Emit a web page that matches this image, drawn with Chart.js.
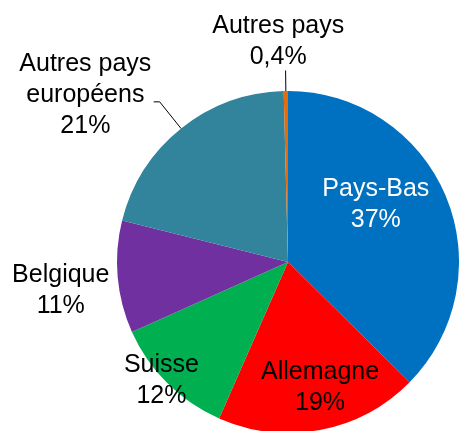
<!DOCTYPE html>
<html lang="fr">
<head>
<meta charset="utf-8">
<title>Répartition par pays</title>
<script src="https://cdn.jsdelivr.net/npm/chart.js@4/dist/chart.umd.min.js"></script>
<style>
  html, body { margin: 0; padding: 0; background: #fff; overflow: hidden; }
  canvas { display: block; }
</style>
</head>
<body>
<canvas id="pie" width="459" height="433"></canvas>
<script>
// --- données ---
const categories = ['Pays-Bas', 'Allemagne', 'Suisse', 'Belgique', 'Autres pays européens', 'Autres pays'];
const values = [37.4, 19.2, 11.7, 10.6, 20.7, 0.4];
const percentLabels = ['37%', '19%', '12%', '11%', '21%', '0,4%'];
const nameLines = [['Pays-Bas'], ['Allemagne'], ['Suisse'], ['Belgique'], ['Autres pays', 'européens'], ['Autres pays']];
const colors = ['#0070C0', '#FF0000', '#00B050', '#7030A0', '#31849B', '#E46C0A'];

// placement des étiquettes : facteur de rayon sur l'angle médian + décalage en px
const labelPlacement = [
  { r: 0.62, dx: -10, dy: -19, color: '#fff' },
  { r: 0.75, dx: 8, dy: -2, color: '#000' },
  { r: 1.0, dx: -6, dy: -5, color: '#000' },
  { r: 1.34, dx: 1, dy: 6, color: '#000' },
  { r: 1.54, dx: -38, dy: 37, color: '#000', leader: { r: 1.2, elbow: -6 } },
  { r: 1.3, dx: -7, dy: 0, color: '#000', leader: { r: 1.12, elbow: 0 } }
];

const FONT_SIZE = 25;
const LINE_H = 31;
const CAP_H = 18;

const labelPlugin = {
  id: 'sliceLabels',
  afterDraw(chart) {
    const ctx = chart.ctx;
    const arcs = chart.getDatasetMeta(0).data;
    ctx.save();
    ctx.font = FONT_SIZE + 'px "Liberation Sans", Arial, sans-serif';
    ctx.textAlign = 'center';
    ctx.textBaseline = 'alphabetic';
    arcs.forEach((arc, i) => {
      const p = labelPlacement[i];
      const mid = (arc.startAngle + arc.endAngle) / 2;
      const R = arc.outerRadius;
      const cx = arc.x + Math.cos(mid) * R * p.r + p.dx;
      const cy = arc.y + Math.sin(mid) * R * p.r + p.dy;

      // trait de rappel
      if (p.leader) {
        const x0 = arc.x + Math.cos(mid) * R;
        const y0 = arc.y + Math.sin(mid) * R;
        const x1 = arc.x + Math.cos(mid) * R * p.leader.r;
        const y1 = arc.y + Math.sin(mid) * R * p.leader.r;
        ctx.beginPath();
        ctx.strokeStyle = '#000';
        ctx.lineWidth = 1;
        ctx.moveTo(x0, y0);
        ctx.lineTo(x1, y1);
        if (p.leader.elbow) ctx.lineTo(x1 + p.leader.elbow, y1);
        ctx.stroke();
      }

      const lines = nameLines[i].concat([percentLabels[i]]);
      const first = cy - (lines.length - 1) * LINE_H / 2 + CAP_H / 2;
      ctx.fillStyle = p.color;
      lines.forEach((t, k) => ctx.fillText(t, cx, first + k * LINE_H));
    });
    ctx.restore();
  }
};

new Chart(document.getElementById('pie'), {
  type: 'pie',
  data: {
    labels: categories,
    datasets: [{
      data: values,
      backgroundColor: colors,
      borderWidth: 0
    }]
  },
  options: {
    responsive: false,
    animation: false,
    layout: { padding: { left: 117, top: 91, right: 0, bottom: 0 } },
    plugins: {
      legend: { display: false },
      tooltip: { enabled: false }
    }
  },
  plugins: [labelPlugin]
});
</script>
</body>
</html>
